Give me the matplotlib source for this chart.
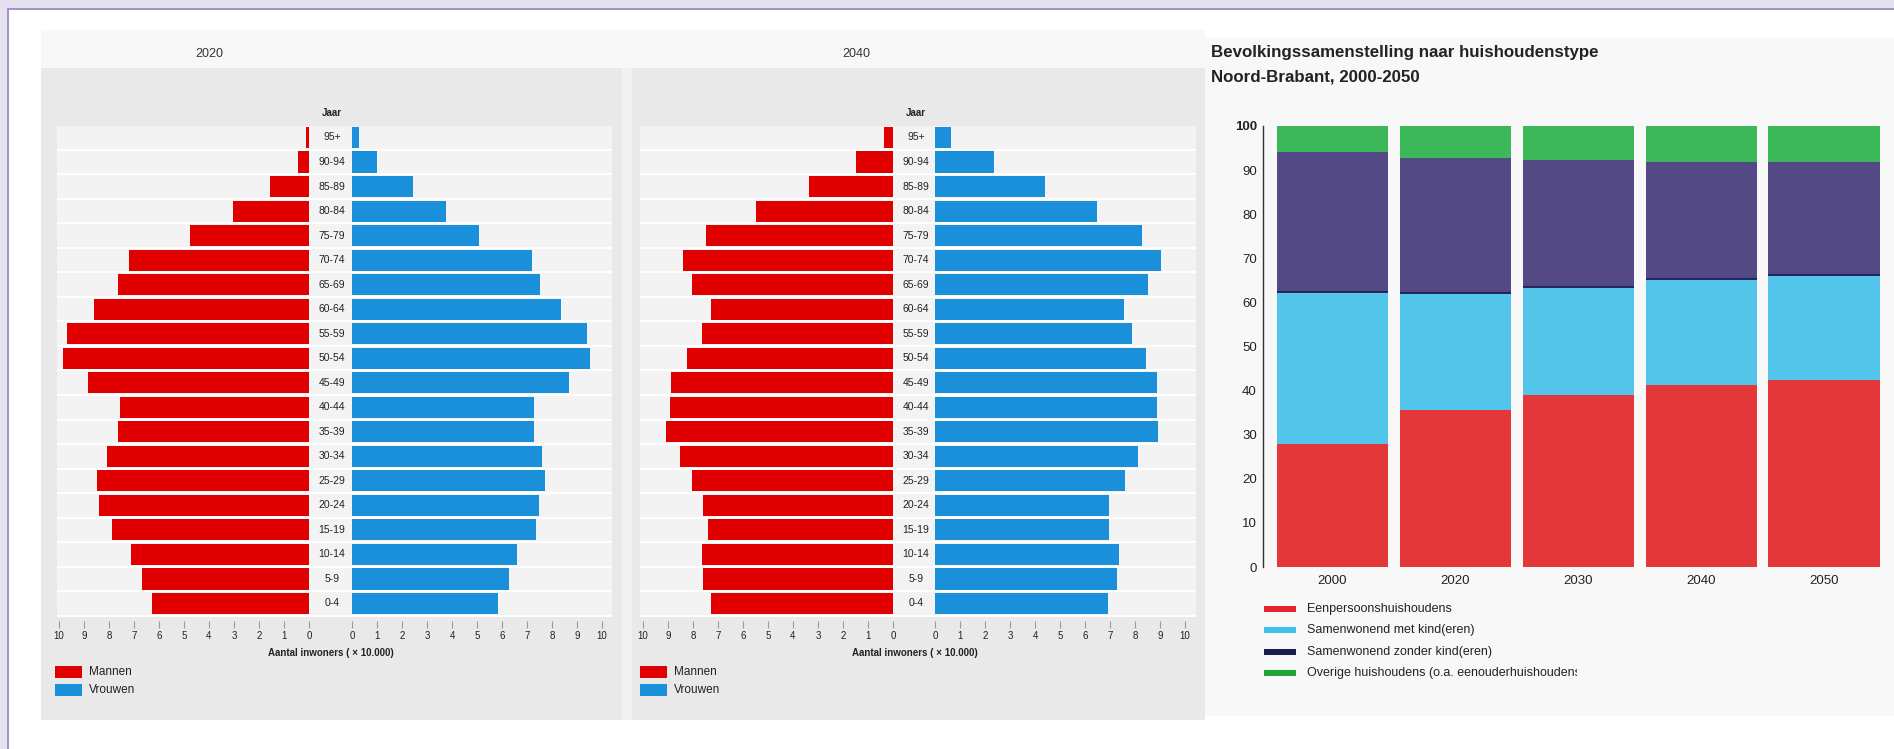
import matplotlib
matplotlib.use("Agg")
import matplotlib.pyplot as plt
from matplotlib.patches import Rectangle
from matplotlib.transforms import blended_transform_factory, Bbox, TransformedBbox
import numpy as np

plt.rcParams['font.family'] = ['Liberation Sans', 'DejaVu Sans']

# ---------------- data ----------------
ages = ["0-4", "5-9", "10-14", "15-19", "20-24", "25-29", "30-34", "35-39", "40-44",
        "45-49", "50-54", "55-59", "60-64", "65-69", "70-74", "75-79", "80-84",
        "85-89", "90-94", "95+"]
# x 10.000 inhabitants, from 0-4 up to 95+
men_2020 = [6.27, 6.70, 7.12, 7.88, 8.41, 8.46, 8.09, 7.66, 7.58, 8.84,
            9.85, 9.69, 8.60, 7.66, 7.20, 4.75, 3.04, 1.55, 0.46, 0.13]
women_2020 = [5.83, 6.26, 6.58, 7.37, 7.48, 7.70, 7.58, 7.27, 7.27, 8.66,
              9.51, 9.40, 8.35, 7.50, 7.20, 5.07, 3.76, 2.45, 0.98, 0.26]
men_2040 = [7.27, 7.60, 7.63, 7.42, 7.60, 8.06, 8.52, 9.07, 8.94, 8.89,
            8.26, 7.63, 7.30, 8.06, 8.40, 7.47, 5.50, 3.35, 1.47, 0.35]
women_2040 = [6.92, 7.28, 7.36, 6.97, 6.95, 7.58, 8.10, 8.93, 8.88, 8.88,
              8.42, 7.87, 7.57, 8.53, 9.04, 8.28, 6.48, 4.39, 2.37, 0.63]
pyr_ticks = list(range(0, 11))

hh_years = ["2000", "2020", "2030", "2040", "2050"]
hh_eenpersoons = [28.0, 35.7, 39.0, 41.3, 42.5]
hh_met_kind = [34.4, 26.5, 24.6, 24.1, 23.8]
hh_zonder_kind = [31.7, 30.6, 28.6, 26.5, 25.5]
hh_overig = [5.9, 7.2, 7.8, 8.1, 8.2]
hh_labels = ["Eenpersoonshuishoudens", "Samenwonend met kind(eren)",
             "Samenwonend zonder kind(eren)", "Overige huishoudens (o.a. eenouderhuishoudens"]
hh_yticks = list(range(0, 101, 10))

# ---------------- figure ----------------
W, H = 1894, 749
fig = plt.figure(figsize=(W / 100, H / 100), dpi=100)
fig.patch.set_facecolor('#e5e1f1')


def ax_px(x0, y0, x1, y1, **kw):
    return fig.add_axes([x0 / W, 1 - y1 / H, (x1 - x0) / W, (y1 - y0) / H], **kw)


bg = ax_px(0, 0, W, H)
bg.set_xlim(0, W)
bg.set_ylim(H, 0)
bg.axis('off')
bg.add_patch(Rectangle((8, 9), W, H, facecolor='white', edgecolor='#9a8ac6', lw=1.3))
bg.add_patch(Rectangle((41, 30), 1164, 38, facecolor='#f8f8f8', lw=0))
bg.add_patch(Rectangle((41, 68), 581, 652, facecolor='#e9e9e9', lw=0))
bg.add_patch(Rectangle((622, 68), 10, 652, facecolor='#f1f1f1', lw=0))
bg.add_patch(Rectangle((632, 68), 573, 652, facecolor='#e9e9e9', lw=0))
bg.add_patch(Rectangle((1205, 38), W - 1205, 678, facecolor='#f8f8f8', lw=0))

RED = '#e00000'
BLUE = '#1b90da'
TXT = '#222222'

top_px, bot_px = 126, 621
row0, row20 = 603.5, 137.5
pitch = (row0 - row20) / (len(ages) - 1)
ylim = (0 - (bot_px - row0) / pitch, (len(ages) - 1) + (row20 - top_px) / pitch)
ypos = np.arange(len(ages))


def pyramid(men, women, mx, fx, lab_x, stripe_x, title, title_x, leg_x):
    # stripes
    st = ax_px(stripe_x[0], top_px, stripe_x[1], bot_px)
    st.set_ylim(*ylim)
    st.set_xlim(0, 1)
    st.axis('off')
    for y in ypos:
        st.axhspan(y - 0.5, y + 0.5, color='#f3f3f3', lw=0)
        st.axhline(y + 0.5, color='white', lw=1.4)
    st.axhline(-0.5, color='white', lw=1.4)

    am = ax_px(mx[0], top_px, mx[1], bot_px)
    af = ax_px(fx[0], top_px, fx[1], bot_px)
    for a in (am, af):
        a.set_facecolor('none')
        a.set_ylim(*ylim)
        for s in a.spines.values():
            s.set_visible(False)
        a.set_yticks([])
        a.set_xticks(pyr_ticks)
        a.tick_params(axis='x', length=5, width=0.8, color='#9a9a9a', pad=2,
                      labelsize=7, labelcolor=TXT)
    am.set_xlim(10, 0)
    af.set_xlim(0, 10)
    am.barh(ypos, men, height=0.86, color=RED, lw=0)
    af.barh(ypos, women, height=0.86, color=BLUE, lw=0)

    tr = blended_transform_factory(bg.transData, am.transData)
    for y, lab in zip(ypos, ages):
        am.text(lab_x, y, lab, transform=tr, ha='center', va='center',
                fontsize=7.5, color=TXT, clip_on=False)
    bg.text(lab_x, 113, "Jaar", ha='center', va='center', fontsize=7, fontweight='bold', color=TXT)
    bg.text(title_x, 54, title, ha='center', va='center', fontsize=9, color='#333333')
    bg.text(lab_x - 1, 653, "Aantal inwoners ( \u00d7 10.000)", ha='center', va='center',
            fontsize=7, fontweight='bold', color=TXT)
    bg.add_patch(Rectangle((leg_x, 666), 27, 12, facecolor=RED, lw=0))
    bg.add_patch(Rectangle((leg_x, 684), 27, 12, facecolor=BLUE, lw=0))
    bg.text(leg_x + 34, 672, "Mannen", va='center', fontsize=8.5, color=TXT)
    bg.text(leg_x + 34, 690, "Vrouwen", va='center', fontsize=8.5, color=TXT)


pyramid(men_2020, women_2020, (59, 309), (352, 602), 332, (57, 612), "2020", 209, 55)
pyramid(men_2040, women_2040, (643, 893), (935, 1185), 916, (640, 1196), "2040", 856, 640)

# ---------------- stacked household chart ----------------
pitch_x = 122.9
x0_center = 1332.5
ax_left, ax_right = 1263, 1888
xl = (-(x0_center - ax_left) / pitch_x, (ax_right - x0_center) / pitch_x)
ah = ax_px(ax_left, 126, ax_right, 567)
ah.set_facecolor('none')
ah.set_xlim(*xl)
ah.set_ylim(0, 100)
xs = np.arange(len(hh_years))
bw = 0.905
c_red, c_cyan, c_purple, c_green = '#e3373a', '#53c5ea', '#534a85', '#3cb85b'
b1 = np.array(hh_eenpersoons)
b2 = b1 + np.array(hh_met_kind)
b3 = b2 + np.array(hh_zonder_kind)
ah.bar(xs, hh_eenpersoons, width=bw, color=c_red, lw=0)
ah.bar(xs, hh_met_kind, bottom=b1, width=bw, color=c_cyan, lw=0)
ah.bar(xs, hh_zonder_kind, bottom=b2, width=bw, color=c_purple, lw=0)
ah.bar(xs, hh_overig, bottom=b3, width=bw, color=c_green, lw=0)
ah.hlines(b2, xs - bw / 2, xs + bw / 2, color='#1e1d55', lw=1.3)
for s in ('top', 'right', 'bottom'):
    ah.spines[s].set_visible(False)
ah.spines['left'].set_color('#333333')
ah.spines['left'].set_linewidth(1.0)
ah.set_yticks(hh_yticks)
ah.set_yticklabels([str(v) for v in hh_yticks])
ah.get_yticklabels()[-1].set_fontweight('bold')
ah.set_xticks(xs)
ah.set_xticklabels(hh_years)
ah.tick_params(axis='y', length=0, pad=4.5, labelsize=9.5, labelcolor=TXT)
ah.tick_params(axis='x', length=0, pad=6, labelsize=9.5, labelcolor=TXT)

bg.text(1211, 53, "Bevolkingssamenstelling naar huishoudenstype", va='center',
        fontsize=12.2, fontweight='bold', color=TXT)
bg.text(1211, 77, "Noord-Brabant, 2000-2050", va='center',
        fontsize=12.2, fontweight='bold', color=TXT)

leg_cols = ['#e3262b', '#3fc0e8', '#1c1c4e', '#22a33a']
leg_y = [609, 630, 652, 673]
clip = TransformedBbox(Bbox([[0, 0], [1577 / W, 1]]), fig.transFigure)
for c, y, lab in zip(leg_cols, leg_y, hh_labels):
    bg.add_patch(Rectangle((1264, y - 3), 32, 6, facecolor=c, lw=0))
    t = bg.text(1307, y, lab, va='center', fontsize=9, color=TXT)
    t.set_clip_box(clip)
    t.set_clip_on(True)

fig.savefig("out.png", dpi=100, facecolor=fig.get_facecolor())
